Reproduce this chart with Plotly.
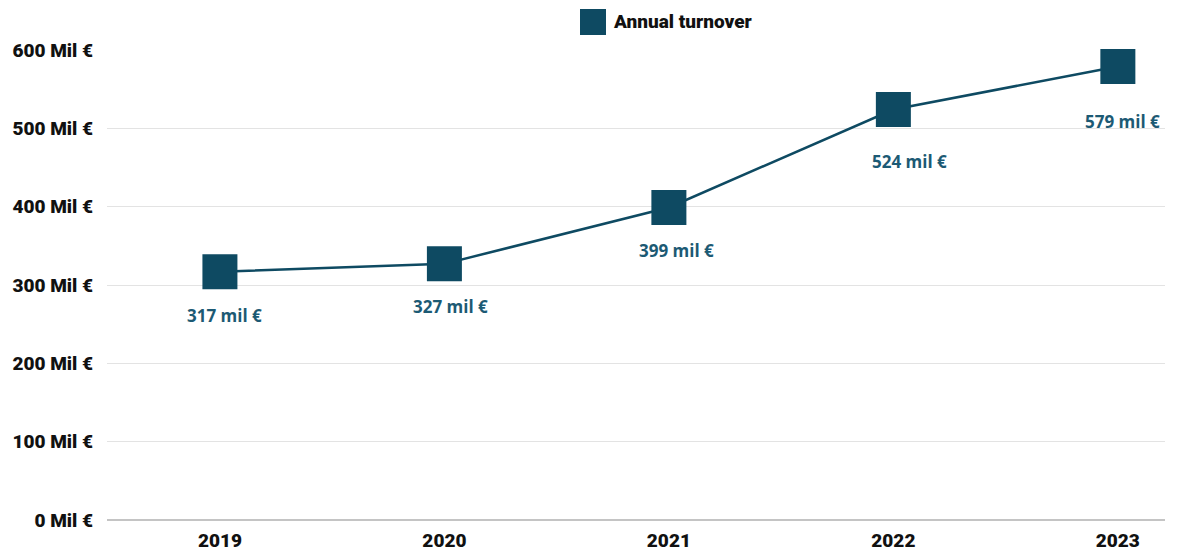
import plotly.graph_objects as go

years = ["2019", "2020", "2021", "2022", "2023"]
turnover = [317, 327, 399, 524, 579]
labels = ["317 mil €", "327 mil €", "399 mil €", "524 mil €", "579 mil €"]
y_ticks = [0, 100, 200, 300, 400, 500, 600]
y_tick_text = ["0 Mil €", "100 Mil €", "200 Mil €", "300 Mil €", "400 Mil €", "500 Mil €", "600 Mil €"]
series_name = "Annual turnover"

# pixel offsets of each value label from its marker
label_dx = [5, 6, 8, 16, 5]
label_dy = [-44, -43, -43, -52, -55]

teal = "#0e4a62"
label_color = "#1c5a74"
cond_font = "Roboto, Inter, sans-serif"

fig = go.Figure()
fig.add_trace(go.Scatter(
    x=years, y=turnover, mode="lines+markers", name=series_name,
    line=dict(color=teal, width=2.5),
    marker=dict(symbol="square", size=35, color=teal),
    cliponaxis=False, showlegend=False,
))

# value labels beneath each marker (x given as category index)
for i, (y, t) in enumerate(zip(turnover, labels)):
    fig.add_annotation(x=i, y=y, xref="x", yref="y", text=t, showarrow=False,
                       yshift=label_dy[i], xshift=label_dx[i],
                       font=dict(family="Open Sans, sans-serif", size=17, color=label_color,
                                 weight=700))

# legend drawn as a swatch and a label above the plot
fig.add_shape(type="rect", xref="paper", yref="paper",
              x0=(580 - 107) / 1058, x1=(606 - 107) / 1058,
              y0=(520 - 35) / 470, y1=(520 - 9) / 470,
              fillcolor=teal, line=dict(width=0))
fig.add_annotation(xref="paper", yref="paper", x=(611 - 107) / 1058, y=(520 - 22) / 470,
                   xanchor="left", yanchor="middle", text=series_name, showarrow=False,
                   font=dict(family=cond_font, size=19, color="#111", weight=900))

fig.update_layout(
    width=1181, height=555,
    margin=dict(l=107, r=16, t=50, b=35),
    paper_bgcolor="white", plot_bgcolor="white",
    showlegend=False,
    xaxis=dict(type="category", range=[-0.503, 4.21], showgrid=False, zeroline=False,
               showline=False, ticks="", automargin=False, ticklabelstandoff=7,
               tickfont=dict(family=cond_font, size=19, color="#111", weight=900)),
    yaxis=dict(range=[0, 600], tickvals=y_ticks, ticktext=y_tick_text,
               showgrid=True, gridcolor="#e3e3e3", gridwidth=1,
               zeroline=True, zerolinecolor="#c4c4c4", zerolinewidth=2,
               showline=False, ticks="", ticklabelstandoff=13, automargin=False,
               tickfont=dict(family=cond_font, size=19, color="#111", weight=900)),
)

fig.write_html("out.html")
